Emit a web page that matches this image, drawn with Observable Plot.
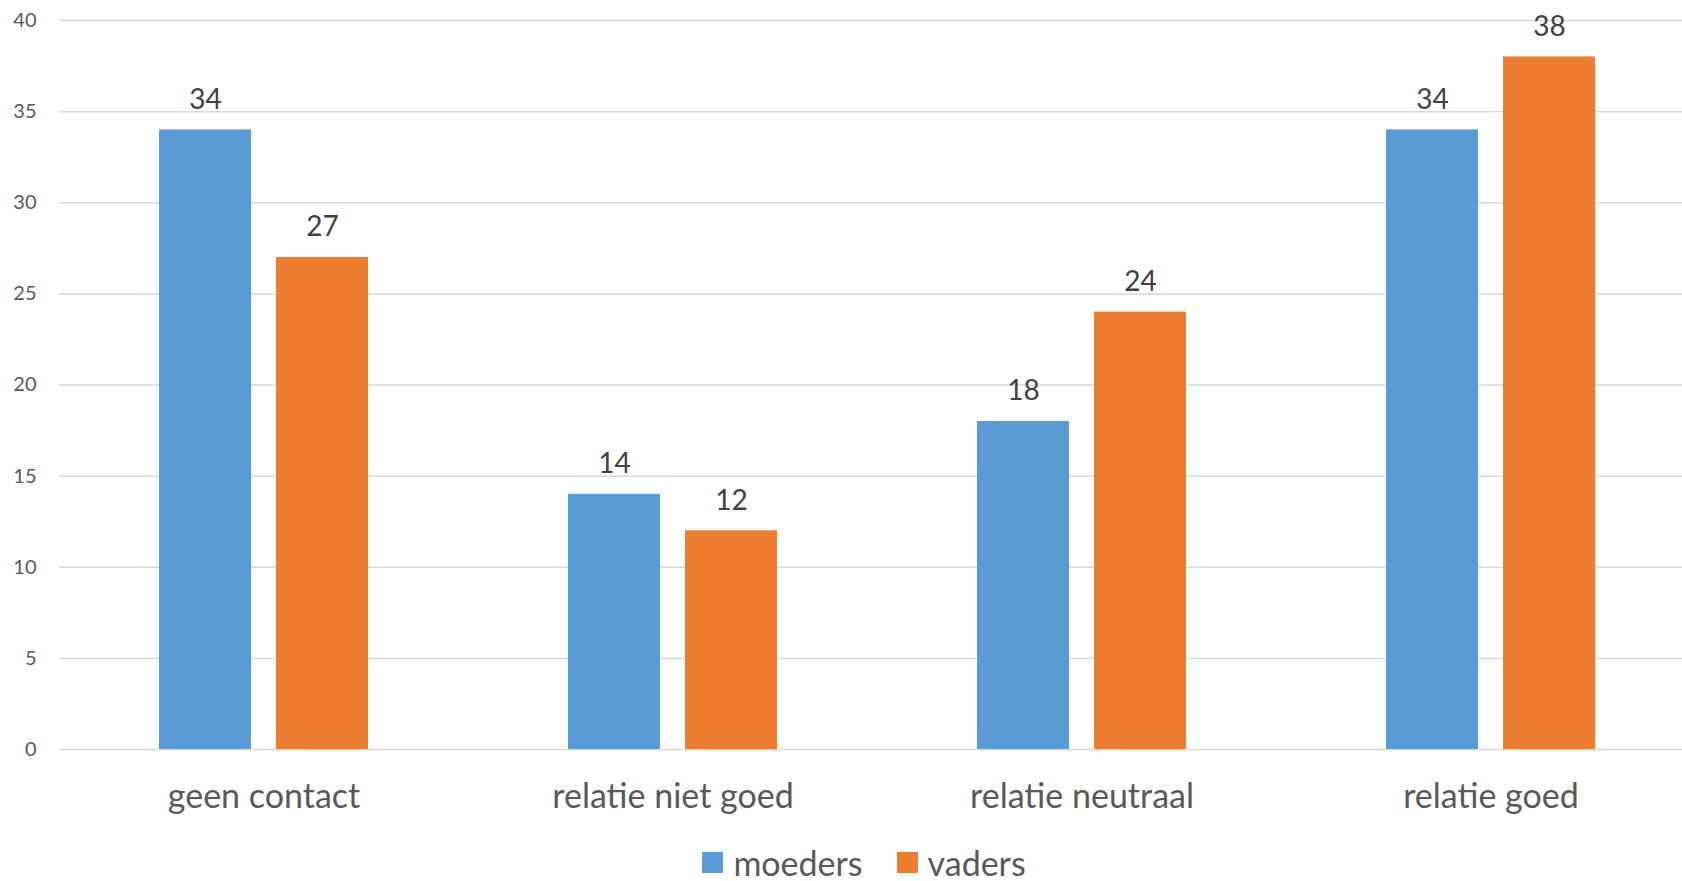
<!DOCTYPE html>
<html>
<head>
<meta charset="utf-8">
<script src="https://cdn.jsdelivr.net/npm/d3@7"></script>
<script src="https://cdn.jsdelivr.net/npm/@observablehq/plot@0.6"></script>
<style>
  html, body { margin: 0; padding: 0; background: #fff; }
  body { width: 1682px; height: 881px; overflow: hidden; font-family: Lato, "Open Sans", sans-serif; }
  #chart svg { overflow: hidden; }
  #legend { display: flex; justify-content: center; align-items: center; height: 38px; padding-left: 46px; font-size: 34px; color: #595959; }
  .item { display: flex; align-items: center; margin: 0 17px; }
  .sw { width: 21px; height: 21px; margin-right: 10px; }
</style>
</head>
<body>
<div id="chart"></div>
<div id="legend"></div>
<script>
const categories = ["geen contact", "relatie niet goed", "relatie neutraal", "relatie goed"];
const series = ["moeders", "vaders"];
const moeders = [34, 14, 18, 34];
const vaders = [27, 12, 24, 38];
const yTicks = [0, 5, 10, 15, 20, 25, 30, 35, 40];
const colors = ["#5B9BD5", "#ED7D31"];

const data = [];
categories.forEach((c, i) => {
  data.push({category: c, series: "moeders", value: moeders[i]});
  data.push({category: c, series: "vaders", value: vaders[i]});
});

const chart = Plot.plot({
  width: 1682,
  height: 843,
  marginLeft: 59,
  marginRight: -13,
  marginTop: 20,
  marginBottom: 94,
  style: {fontFamily: "Lato, 'Open Sans', sans-serif", background: "#fff"},
  fx: {domain: categories, padding: 0, label: null, axis: null},
  x: {domain: series, paddingInner: 0.214, paddingOuter: 0.841, axis: null},
  y: {domain: [0, 40], ticks: yTicks, label: null, grid: false, axis: null},
  color: {domain: series, range: colors},
  marks: [
    Plot.ruleY(yTicks, {stroke: "#d9d9d9", strokeWidth: 1.5}),
    Plot.axisY({ticks: yTicks, tickSize: 0, tickPadding: 23, fontSize: 20, fill: "#595959", label: null}),
    Plot.barY(data, {fx: "category", x: "series", y: "value", fill: "series"}),
    Plot.text(data, {fx: "category", x: "series", y: "value", text: d => String(d.value), dy: -30, fontSize: 28, fill: "#404040"}),
    Plot.axisFx({anchor: "bottom", tickSize: 0, tickPadding: 34, fontSize: 34, fill: "#595959", label: null})
  ]
});
document.getElementById("chart").appendChild(chart);

const legend = document.getElementById("legend");
series.forEach((s, i) => {
  const item = document.createElement("div");
  item.className = "item";
  const sw = document.createElement("div");
  sw.className = "sw";
  sw.style.background = colors[i];
  const t = document.createElement("span");
  t.textContent = s;
  item.appendChild(sw);
  item.appendChild(t);
  legend.appendChild(item);
});
</script>
</body>
</html>
